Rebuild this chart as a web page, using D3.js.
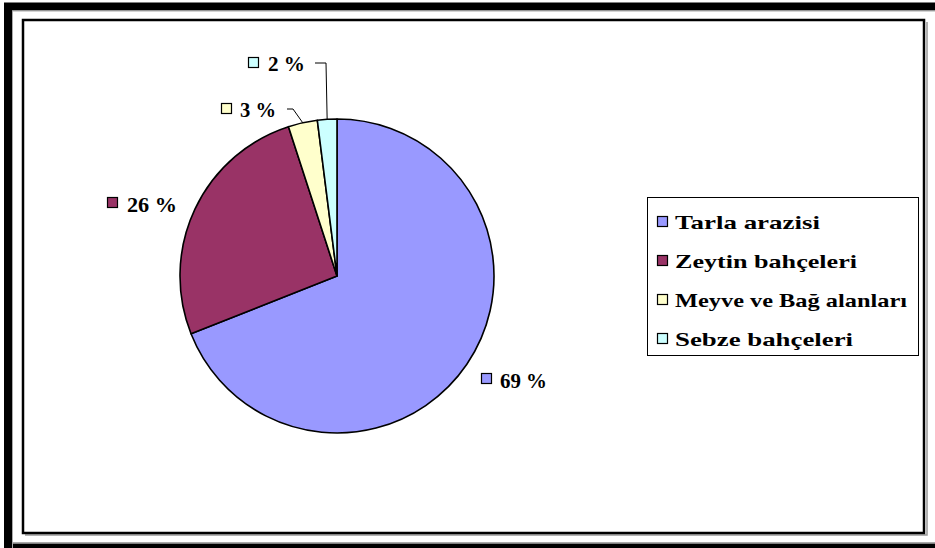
<!DOCTYPE html>
<html><head><meta charset="utf-8">
<script src="https://cdn.jsdelivr.net/npm/d3@7/dist/d3.min.js"></script>
<style>body{margin:0;background:#fff}svg{display:block}
.t{font-family:"Liberation Serif","Times New Roman",Times,"DejaVu Serif Condensed","DejaVu Serif",serif;font-weight:bold;fill:#000}</style>
</head><body>
<script>
const categories = ["Tarla arazisi","Zeytin bahçeleri","Meyve ve Bağ alanları","Sebze bahçeleri"];
const values = [69, 26, 3, 2];
const colors = ["#9999FF","#993366","#FFFFCC","#CCFFFF"];

const W = 935, H = 548;
const svg = d3.select("body").append("svg").attr("width", W).attr("height", H);

// outer frame
svg.append("rect").attr("x",8).attr("y",6.5).attr("width",940).attr("height",541)
  .attr("fill","none").attr("stroke","#000").attr("stroke-width",8);
svg.append("path").attr("d","M12.5,548 V11 H935").attr("fill","none").attr("stroke","#aaa").attr("stroke-width",1);
svg.append("path").attr("d","M12.5,542.5 H935").attr("fill","none").attr("stroke","#aaa").attr("stroke-width",1);
// inner plot frame
svg.append("path").attr("d","M25,535 H927 V22").attr("fill","none").attr("stroke","#999").attr("stroke-width",1.5);
svg.append("rect").attr("x",23).attr("y",20).attr("width",901).attr("height",513)
  .attr("fill","none").attr("stroke","#000").attr("stroke-width",2.5);

const cx = 337, cy = 276, R = 157;
const pie = d3.pie().sort(null).value(d => d)(values);
const arc = d3.arc().innerRadius(0).outerRadius(R);
const g = svg.append("g").attr("transform",`translate(${cx},${cy})`);
g.selectAll("path").data(pie).join("path")
  .attr("d", arc).attr("fill",(d,i)=>colors[i])
  .attr("stroke","#000").attr("stroke-width",1.6).attr("stroke-linejoin","round");

// labels
const labelPos = [
  {kx:481, ky:373, tx:500, ty:388, w:47},
  {kx:107, ky:197, tx:127, ty:212, w:50},
  {kx:221, ky:103, tx:240, ty:117, w:36},
  {kx:248, ky:57,  tx:268, ty:71,  w:37}
];
const outer = d3.arc().innerRadius(R).outerRadius(R);
pie.forEach((d,i)=>{
  const p = labelPos[i];
  svg.append("rect").attr("x",p.kx+0.5).attr("y",p.ky+0.5).attr("width",10).attr("height",10)
    .attr("fill",colors[i]).attr("stroke","#000").attr("stroke-width",1.2);
  svg.append("text").attr("class","t").attr("x",p.tx).attr("y",p.ty)
    .attr("font-size",20)
    .attr("textLength",p.w).attr("lengthAdjust","spacingAndGlyphs")
    .text(values[i] + " %");
});
// leader lines for small slices
const leaders = [
  {i:2, pts:[[287,109],[293,109]]},
  {i:3, pts:[[315,63],[326,63]]}
];
leaders.forEach(l=>{
  const c = outer.centroid(pie[l.i]);
  const pts = l.pts.concat([[cx+c[0], cy+c[1]]]);
  svg.append("path").attr("d", d3.line()(pts)).attr("fill","none")
    .attr("stroke","#000").attr("stroke-width",1);
});

// legend
const lg = svg.append("g");
lg.append("rect").attr("x",647.5).attr("y",197.5).attr("width",271).attr("height",158)
  .attr("fill","#fff").attr("stroke","#000").attr("stroke-width",1);
const rowY = [222, 261, 300, 339];
const textW = [145, 182, 232, 178];
categories.forEach((c,i)=>{
  lg.append("rect").attr("x",657.5).attr("y",rowY[i]-5.5).attr("width",10).attr("height",10)
    .attr("fill",colors[i]).attr("stroke","#000").attr("stroke-width",1.2);
  lg.append("text").attr("class","t").attr("x",675).attr("y",rowY[i]+6.5)
    .attr("font-size",19)
    .attr("textLength",textW[i]).attr("lengthAdjust","spacingAndGlyphs")
    .text(c);
});
</script>
</body></html>
